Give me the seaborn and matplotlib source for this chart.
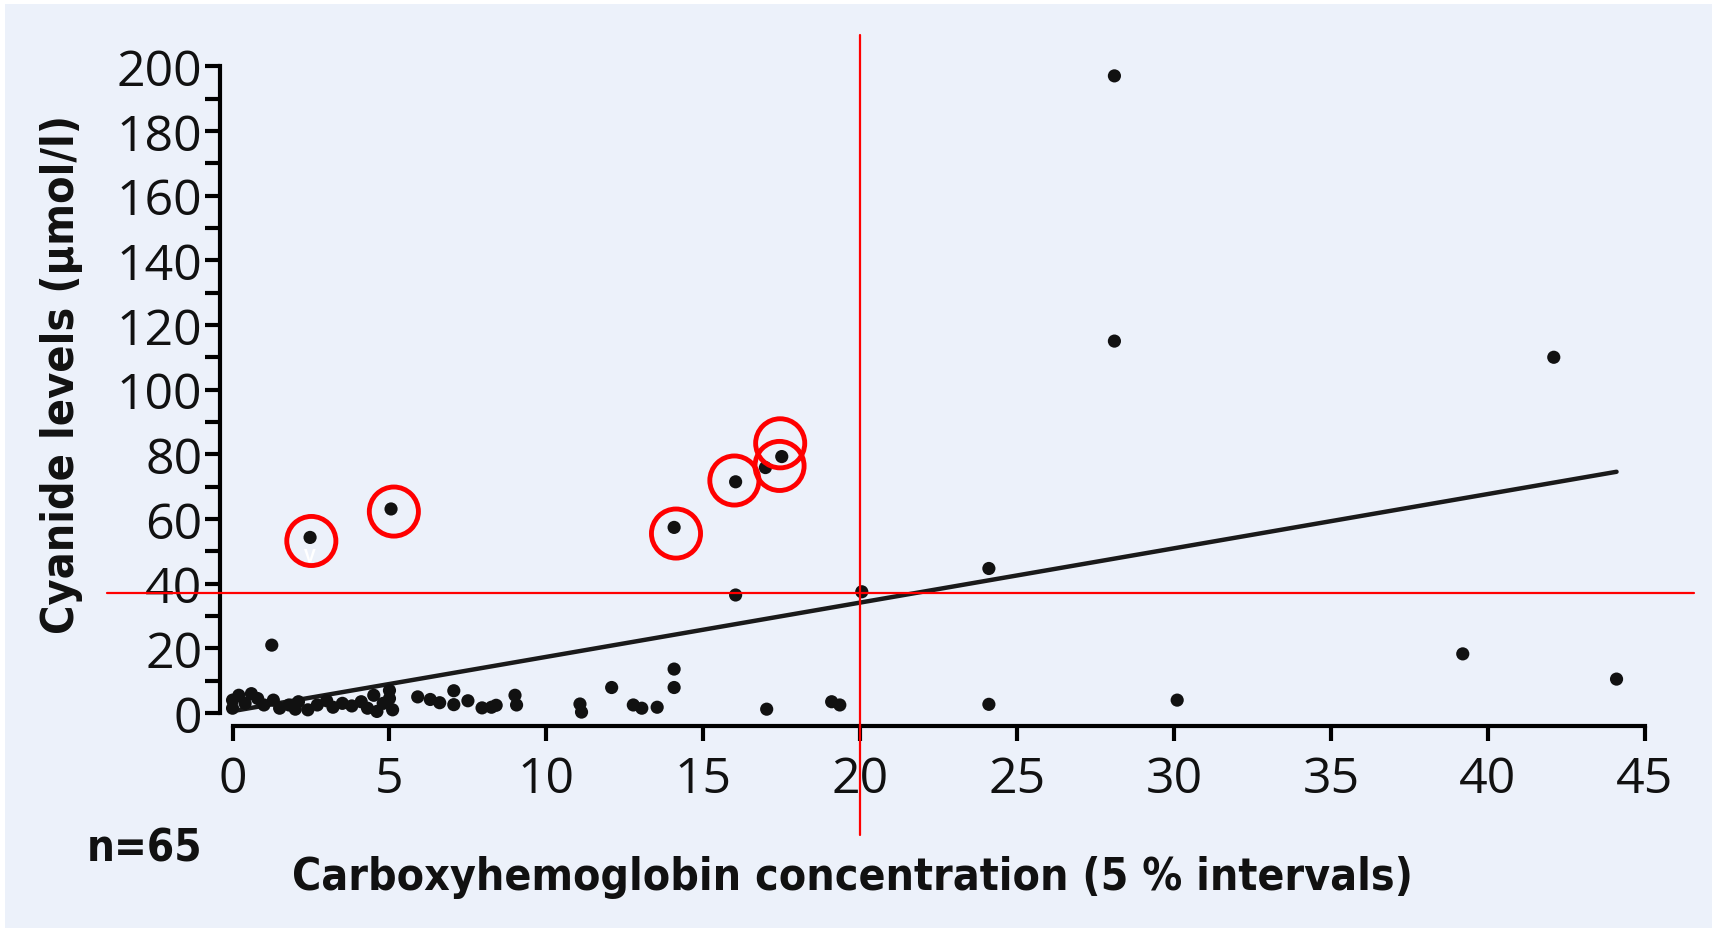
import matplotlib
matplotlib.use("Agg")
import matplotlib.pyplot as plt
from matplotlib.patches import Rectangle
from matplotlib.ticker import MultipleLocator
from matplotlib import font_manager
import seaborn as sns
import pandas as pd

# Carboxyhemoglobin (%) vs. cyanide level (µmol/l), one point per patient
cohb = [
    0.0, 0.0, 0.2, 0.4, 0.6, 0.8, 1.0, 1.3, 1.5, 1.8, 2.0, 2.1, 2.4, 2.7, 3.0,
    3.2, 3.5, 3.8, 4.1, 4.3, 4.5, 4.6, 4.8, 5.0, 5.0, 5.1,
    5.9, 6.3, 6.6, 7.05, 7.05, 7.5, 7.95, 8.25, 8.4, 9.0, 9.05,
    1.25, 2.47, 5.05, 11.07, 11.12, 12.08, 12.77, 13.04, 13.53, 14.07, 14.07,
    14.07, 16.03, 16.03, 16.98, 17.02, 17.5, 19.09, 19.35, 20.05, 24.1, 24.1,
    28.1, 28.1, 30.1, 39.2, 42.1, 44.1,
]
cyanide = [
    1.5, 4.0, 5.5, 3.0, 6.0, 4.5, 2.5, 4.0, 1.5, 2.5, 1.2, 3.5, 1.0, 2.5, 3.8,
    1.8, 3.0, 2.2, 3.5, 1.5, 5.5, 0.5, 3.0, 7.0, 4.5, 1.0,
    5.0, 4.2, 3.2, 6.9, 2.6, 3.8, 1.6, 1.8, 2.4, 5.5, 2.5,
    21.0, 54.3, 63.1, 2.8, 0.3, 7.9, 2.5, 1.5, 1.8, 13.6, 7.9,
    57.4, 71.5, 36.5, 75.9, 1.2, 79.3, 3.5, 2.5, 37.5, 44.7, 2.7,
    197.0, 115.0, 4.0, 18.3, 110.0, 10.5,
]

# Highlighted cases (red rings)
ring_x = [2.51, 5.14, 14.13, 15.99, 17.43, 17.45]
ring_y = [53.2, 62.3, 55.5, 71.9, 76.4, 83.4]

# Linear trend line end points
fit_x = [0.0, 44.1]
fit_y = [0.6, 74.6]

# Reference cut-offs
cohb_cut = 20.0
cyanide_cut = 37.0

x_ticks = list(range(0, 50, 5))
y_ticks = list(range(0, 220, 20))

n_label = "n=65"
x_label = "Carboxyhemoglobin concentration (5 % intervals)"
y_label = "Cyanide levels (µmol/l)"

BG = "#ECF1FA"
INK = "#111111"
W, H = 1712, 929

sns.set_theme(style="white")
plt.rcParams["font.family"] = ["Open Sans", "DejaVu Sans"]

# bold condensed face for the titles, if one is available
cond = font_manager.FontProperties(family="DejaVu Sans", stretch="condensed",
                                   weight="bold")
if "Condensed" in font_manager.findfont(cond):
    title_font = dict(family=["DejaVu Sans"], fontstretch="condensed")
else:
    title_font = dict(family=["Roboto", "DejaVu Sans"])

fig = plt.figure(figsize=(W / 100, H / 100), dpi=100, facecolor="white")
fig.patches.append(Rectangle((5 / W, 0), 1, 1 - 5 / H, transform=fig.transFigure,
                             facecolor=BG, edgecolor="none", zorder=-10))

ax = fig.add_axes([220 / W, (H - 727) / H, (1695 - 220) / W, (727 - 51) / H])
ax.set_facecolor("none")
ax.set_xlim(-0.4, 46.6)
ax.set_ylim(-4, 205)

df = pd.DataFrame({"cohb": cohb, "cyanide": cyanide})
sns.scatterplot(data=df, x="cohb", y="cyanide", ax=ax, color=INK,
                s=90, edgecolor="none", zorder=4, legend=False)

sns.lineplot(x=fit_x, y=fit_y, ax=ax, color="#1a1a1a", linewidth=3.2,
             zorder=3, legend=False)

ax.scatter(ring_x, ring_y, s=1250, facecolors="none", edgecolors="#FF0000",
           linewidths=3.5, zorder=5)

# white mark inside the first ring
ax.text(2.47, 48.5, "V", color="white", fontsize=13, fontweight="bold",
        ha="center", va="center", zorder=5)

ax.plot([-4.0, 46.56], [cyanide_cut, cyanide_cut], color="#FF0000", lw=1.6,
        clip_on=False, zorder=6)
ax.plot([cohb_cut, cohb_cut], [209.5, -37.7], color="#FF0000", lw=1.6,
        clip_on=False, zorder=6)

for s in ("top", "right"):
    ax.spines[s].set_visible(False)
for s in ("left", "bottom"):
    ax.spines[s].set_linewidth(3.0)
    ax.spines[s].set_color("black")
ax.spines["left"].set_bounds(0, 200)
ax.spines["bottom"].set_bounds(0, 45)

ax.set_xticks(x_ticks)
ax.set_yticks(y_ticks)
ax.yaxis.set_minor_locator(MultipleLocator(10))
ax.tick_params(axis="both", which="both", direction="out", length=10.8,
               width=3.0, color="black", labelsize=36, labelcolor=INK,
               bottom=True, left=True)
ax.tick_params(axis="x", pad=10)
ax.tick_params(axis="y", pad=2)
ax.tick_params(axis="x", which="minor", bottom=False)
ax.set_xlabel("")
ax.set_ylabel("")

t_y = fig.text(62 / W, 1 - 374 / H, y_label, rotation=90, ha="center",
               va="center", fontsize=36, fontweight="bold", color=INK,
               **title_font)
t_x = fig.text(852 / W, (H - 890) / H, x_label, ha="center", va="baseline",
               fontsize=37, fontweight="bold", color=INK, **title_font)
t_n = fig.text(87 / W, (H - 862) / H, n_label, ha="left", va="baseline",
               fontsize=37, fontweight="bold", color=INK, **title_font)

# size each title so it spans its intended length in pixels
fig.canvas.draw()
renderer = fig.canvas.get_renderer()
for txt, span, vertical in ((t_y, 519, True), (t_x, 1119, False),
                            (t_n, 116, False)):
    bb = txt.get_window_extent(renderer)
    cur = bb.height if vertical else bb.width
    txt.set_fontsize(txt.get_fontsize() * span / cur)

fig.savefig("out.png", dpi=100, facecolor=fig.get_facecolor())
